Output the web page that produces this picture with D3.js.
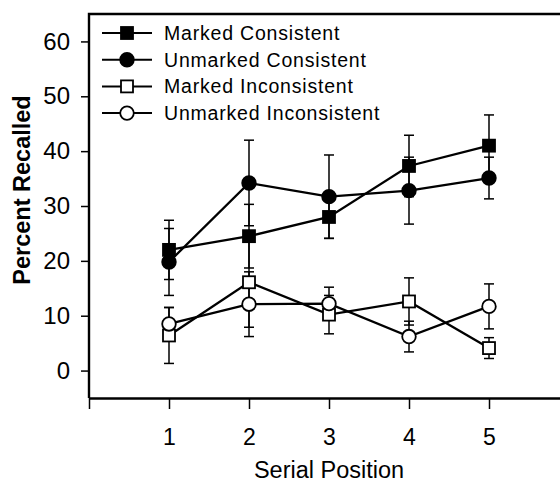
<!DOCTYPE html>
<html>
<head>
<meta charset="utf-8">
<script src="https://cdn.jsdelivr.net/npm/d3@7"></script>
<style>
    body { margin: 0; background: #fff; }
    svg { display: block; font-family: "Liberation Sans", Arial, sans-serif; }
</style>
</head>
<body>
<div id="chart"></div>
<script>
const POSITIONS = [1, 2, 3, 4, 5];
const X_TICKS = [0, 1, 2, 3, 4, 5, 6];
const Y_TICKS = [0, 10, 20, 30, 40, 50, 60];

const SERIES_NAMES = ["Marked Consistent", "Unmarked Consistent", "Marked Inconsistent", "Unmarked Inconsistent"];
const MARKED_CONSISTENT = [22.0, 24.5, 28.0, 37.3, 41.0];
const MARKED_CONSISTENT_ERR = [5.4, 5.8, 3.9, 5.6, 5.6];
const UNMARKED_CONSISTENT = [19.8, 34.2, 31.7, 32.8, 35.1];
const UNMARKED_CONSISTENT_ERR = [6.1, 7.8, 7.6, 6.1, 3.8];
const MARKED_INCONSISTENT = [6.4, 16.1, 10.2, 12.6, 4.1];
const MARKED_INCONSISTENT_ERR = [5.1, 8.2, 3.5, 4.3, 1.9];
const UNMARKED_INCONSISTENT = [8.5, 12.1, 12.2, 6.2, 11.7];
const UNMARKED_INCONSISTENT_ERR = [3.0, 5.9, 3.0, 2.8, 4.1];

const width = 560, height = 487;

const series = [
    { name: SERIES_NAMES[0], values: MARKED_CONSISTENT, err: MARKED_CONSISTENT_ERR, shape: "square", filled: true },
    { name: SERIES_NAMES[1], values: UNMARKED_CONSISTENT, err: UNMARKED_CONSISTENT_ERR, shape: "circle", filled: true },
    { name: SERIES_NAMES[2], values: MARKED_INCONSISTENT, err: MARKED_INCONSISTENT_ERR, shape: "square", filled: false },
    { name: SERIES_NAMES[3], values: UNMARKED_INCONSISTENT, err: UNMARKED_INCONSISTENT_ERR, shape: "circle", filled: false }
];

const svg = d3.select("#chart").append("svg")
    .attr("width", width)
    .attr("height", height);

const x = d3.scaleLinear().domain([0, 6]).range([89, 569]);
const y = d3.scaleLinear().domain([-5, 65]).range([398, 14]);

// frame (right side falls outside the picture)
svg.append("path")
    .attr("d", `M${x(0)},${y(-5)}V${y(65)}H${x(6)}`)
    .attr("fill", "none")
    .attr("stroke", "#000")
    .attr("stroke-width", 2.4);

// y axis
const yAxis = svg.append("g")
    .attr("transform", `translate(${x(0)},0)`)
    .call(d3.axisLeft(y).tickValues(Y_TICKS).tickSize(8).tickSizeOuter(0).tickPadding(11));
yAxis.select(".domain").remove();
yAxis.selectAll("line").attr("stroke-width", 1.5);
yAxis.selectAll("text")
    .attr("font-size", 24)
    .attr("font-family", "Liberation Sans, Arial, sans-serif")
    .attr("fill", "#000");

// x axis
const xAxis = svg.append("g")
    .attr("transform", `translate(0,${y(-5)})`)
    .call(d3.axisBottom(x).tickValues(X_TICKS).tickSize(11).tickSizeOuter(0).tickPadding(20)
        .tickFormat(d => POSITIONS.includes(d) ? d : ""));
xAxis.select(".domain").attr("stroke-width", 2.4);
xAxis.selectAll("line").attr("stroke-width", 1.5);
xAxis.selectAll("text")
    .attr("font-size", 23)
    .attr("font-family", "Liberation Sans, Arial, sans-serif")
    .attr("fill", "#000");

// axis titles
svg.append("text")
    .attr("x", x(3))
    .attr("y", 478)
    .attr("text-anchor", "middle")
    .attr("font-size", 23.5)
    .text("Serial Position");

svg.append("text")
    .attr("transform", `translate(30,${(y(-5) + y(65)) / 2 - 16}) rotate(-90)`)
    .attr("text-anchor", "middle")
    .attr("font-size", 23.5)
    .attr("font-weight", "bold")
    .text("Percent Recalled");

function drawMarker(g, s, cx, cy) {
    if (s.shape === "square") {
        g.append("rect")
            .attr("x", cx - 6).attr("y", cy - 6)
            .attr("width", 12).attr("height", 12)
            .attr("fill", s.filled ? "#000" : "#fff")
            .attr("stroke", "#000").attr("stroke-width", 1.8);
    } else {
        g.append("circle")
            .attr("cx", cx).attr("cy", cy).attr("r", 6.8)
            .attr("fill", s.filled ? "#000" : "#fff")
            .attr("stroke", "#000").attr("stroke-width", 1.8);
    }
}

// error bars
const errG = svg.append("g");
series.forEach(s => {
    POSITIONS.forEach((p, i) => {
        const lo = y(s.values[i] - s.err[i]);
        const hi = y(s.values[i] + s.err[i]);
        errG.append("line")
            .attr("x1", x(p)).attr("x2", x(p))
            .attr("y1", lo).attr("y2", hi)
            .attr("stroke", "#000").attr("stroke-width", 1.5);
        [lo, hi].forEach(v => {
            errG.append("line")
                .attr("x1", x(p) - 5).attr("x2", x(p) + 5)
                .attr("y1", v).attr("y2", v)
                .attr("stroke", "#000").attr("stroke-width", 1.5);
        });
    });
});

// lines
const line = d3.line().x((d, i) => x(POSITIONS[i])).y(d => y(d));
series.forEach(s => {
    svg.append("path")
        .datum(s.values)
        .attr("fill", "none")
        .attr("stroke", "#000")
        .attr("stroke-width", 2.3)
        .attr("d", line);
});

// markers
series.forEach(s => {
    const g = svg.append("g");
    POSITIONS.forEach((p, i) => drawMarker(g, s, x(p), y(s.values[i])));
});

// legend
const legend = svg.append("g");
series.forEach((s, i) => {
    const ly = 33 + i * 26.7;
    legend.append("line")
        .attr("x1", 102).attr("x2", 152)
        .attr("y1", ly).attr("y2", ly)
        .attr("stroke", "#000").attr("stroke-width", 2);
    drawMarker(legend, s, 127, ly);
    legend.append("text")
        .attr("x", 164)
        .attr("y", ly + 7)
        .attr("font-size", 19.5)
        .attr("letter-spacing", 0.8)
        .text(s.name);
});
</script>
</body>
</html>
